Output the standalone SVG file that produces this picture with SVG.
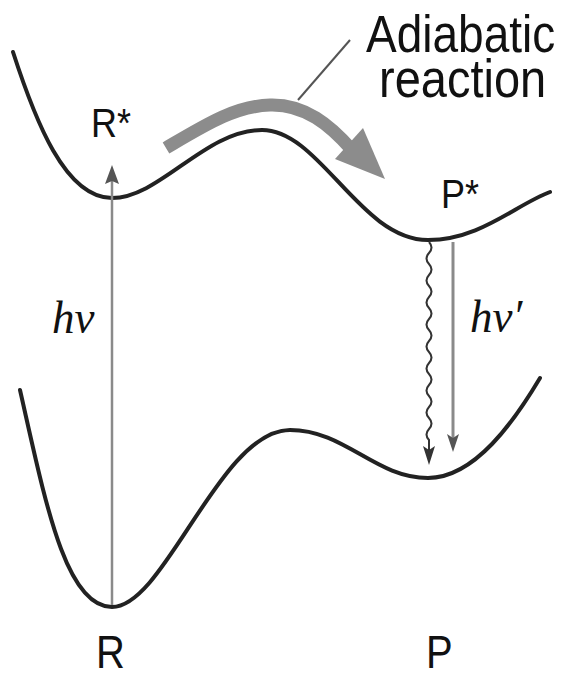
<svg xmlns="http://www.w3.org/2000/svg" width="569" height="679" viewBox="0 0 569 679">
<style>
.curve{fill:none;stroke:#222;stroke-width:4;stroke-linecap:round}
.lbl{font-family:"Liberation Sans",Arial,sans-serif;fill:#111}
.hv{font-family:"Liberation Serif","Times New Roman",serif;font-style:italic;fill:#111}
.thin{fill:none;stroke:#8a8a8a;stroke-width:2.5}
</style>
<rect width="569" height="679" fill="#fff"/>
<g id="curves">
<path id="excited" class="curve" d="M 13 52 C 35 120, 65 198, 112 198 C 160 198, 205 130, 262 130 C 320 130, 360 240, 428 240 C 480 240, 515 205, 550 192"/>
<path id="ground" class="curve" d="M 20 390 C 45 500, 65 607, 112 607 C 165 607, 220 430, 290 430 C 345 430, 375 478, 428 478 C 475 478, 515 420, 540 378"/>
</g>
<g id="connectors">
<path class="thin" d="M 112 605 L 112 180"/>
<polygon points="112,165 105,184 112,181 119,184" fill="#555"/>
<path d="M 166 148 C 205 125, 235 106, 270 105 C 305 104, 330 125, 352 150" fill="none" stroke="#8c8c8c" stroke-width="13"/>
<polygon points="363,128 385,179 335,159" fill="#8c8c8c"/>
<path d="M 298 100 L 350 40" stroke="#555" stroke-width="2" fill="none"/>
<path d="M 429 242 q 5 5.5 0 11 q -5 5.5 0 11 q 5 5.5 0 11 q -5 5.5 0 11 q 5 5.5 0 11 q -5 5.5 0 11 q 5 5.5 0 11 q -5 5.5 0 11 q 5 5.5 0 11 q -5 5.5 0 11 q 5 5.5 0 11 q -5 5.5 0 11 q 5 5.5 0 11 q -5 5.5 0 11 q 5 5.5 0 11 q -5 5.5 0 11 q 5 5.5 0 11 q -5 5.5 0 11 L 429 455" fill="none" stroke="#333" stroke-width="2"/>
<polygon points="429,465 423,446 429,450 435,446" fill="#333"/>
<path d="M 453 242 L 453 440" stroke="#8a8a8a" stroke-width="3" fill="none"/>
<polygon points="453,452 447,434 453,438 459,434" fill="#555"/>
</g>
<g id="labels">
<text class="lbl" font-size="46" transform="matrix(1,0,0,1.13,366,52)">Adiabatic</text>
<text class="lbl" font-size="47" transform="matrix(1,0,0,1.13,379,97)">reaction</text>
<text class="lbl" font-size="36" transform="matrix(1,0,0,1.15,91,137)">R*</text>
<text class="lbl" font-size="36" transform="matrix(1,0,0,1.15,441,208)">P*</text>
<text class="hv" font-size="45" transform="matrix(1,0,0,1.05,52,333)">hν</text>
<text class="hv" font-size="45" transform="matrix(1,0,0,1.05,470,332)">hν′</text>
<text class="lbl" font-size="40" transform="matrix(1,0,0,1.15,96,668)">R</text>
<text class="lbl" font-size="40" transform="matrix(1,0,0,1.15,426,668)">P</text>
</g>
</svg>
